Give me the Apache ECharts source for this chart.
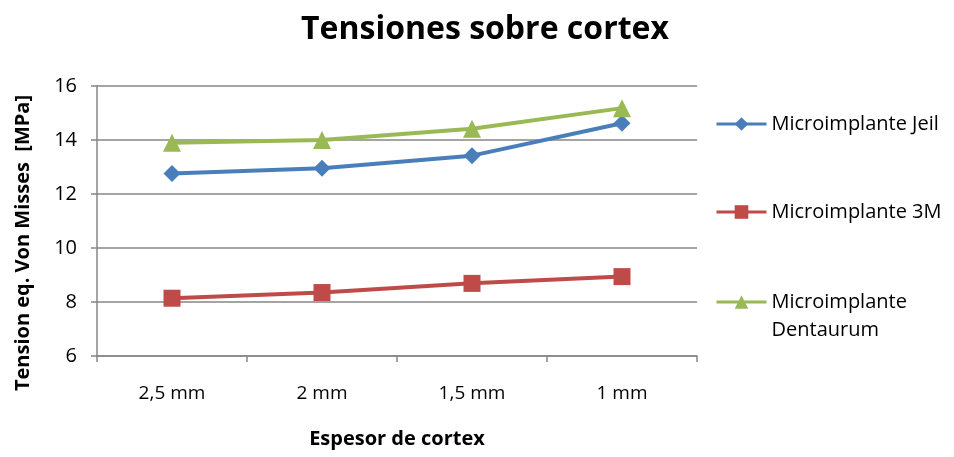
<!DOCTYPE html>
<html>
<head>
<meta charset="utf-8">
<script src="https://cdn.jsdelivr.net/npm/echarts@6/dist/echarts.min.js"></script>
<style>
	html, body { margin: 0; padding: 0; background: #fff; }
	#chart { width: 954px; height: 457px; }
</style>
</head>
<body>
<div id="chart"></div>
<script>
	// datos
	var categorias = ['2,5 mm', '2 mm', '1,5 mm', '1 mm'];
	var nombres = ['Microimplante Jeil', 'Microimplante 3M', 'Microimplante Dentaurum'];
	var jeil = [12.76, 12.95, 13.42, 14.62];
	var tresM = [8.14, 8.35, 8.69, 8.94];
	var dentaurum = [13.9, 14.0, 14.42, 15.18];
	var ticksY = [6, 8, 10, 12, 14, 16];

	var fuente = '"Open Sans", "DejaVu Sans", sans-serif';
	var colores = ['#4a7ebb', '#be4b48', '#98b954'];

	var chart = echarts.init(document.getElementById('chart'));

	function leyenda(nombre, top, dosLineas) {
		return {
			data: [nombre],
			left: 710,
			top: top,
			orient: 'vertical',
			itemWidth: 50,
			itemHeight: 17,
			selectedMode: false,
			lineStyle: { width: 3 },
			// linea blanca delante para que el icono quede junto a la primera linea
			formatter: dosLineas ? function(n) { return '\n' + n.replace(' ', '\n'); } : '{name}',
			textStyle: {
				fontFamily: fuente,
				fontSize: 20,
				lineHeight: 28,
				color: '#000'
			}
		};
	}

	var option = {
		backgroundColor: '#fff',
		color: colores,
		title: {
			text: 'Tensiones sobre cortex',
			left: 480,
			textAlign: 'center',
			top: 9,
			textStyle: {
				fontFamily: fuente,
				fontSize: 32,
				fontWeight: 'bold',
				color: '#000'
			}
		},
		legend: [
			leyenda(nombres[0], 105),
			leyenda(nombres[1], 193),
			leyenda(nombres[2], 255, true)
		],
		grid: {
			left: 97,
			right: 257,
			top: 86,
			bottom: 101,
			containLabel: false
		},
		xAxis: {
			type: 'category',
			data: categorias,
			boundaryGap: true,
			name: 'Espesor de cortex',
			nameLocation: 'middle',
			nameGap: 73,
			nameTextStyle: {
				fontFamily: fuente,
				fontSize: 20,
				fontWeight: 'bold',
				color: '#000'
			},
			axisLine: { lineStyle: { color: '#868686', width: 1.5 } },
			axisTick: { show: true, length: 6, lineStyle: { color: '#868686', width: 1.5 } },
			axisLabel: {
				margin: 28,
				fontFamily: fuente,
				fontSize: 19,
				color: '#000'
			}
		},
		yAxis: {
			type: 'value',
			min: ticksY[0],
			max: ticksY[ticksY.length - 1],
			interval: 2,
			name: 'Tension eq. Von Misses  [MPa]',
			nameLocation: 'middle',
			nameGap: 64,
			nameTextStyle: {
				fontFamily: fuente,
				fontSize: 20,
				fontWeight: 'bold',
				color: '#000',
				padding: [0, 44, 0, 0]
			},
			axisLine: { show: true, lineStyle: { color: '#868686', width: 1.5 } },
			axisTick: { show: true, length: 6, lineStyle: { color: '#868686', width: 1.5 } },
			axisLabel: {
				margin: 20,
				fontFamily: fuente,
				fontSize: 20,
				color: '#000'
			},
			splitLine: { lineStyle: { color: '#868686', width: 1.5 } }
		},
		series: [{
				name: nombres[0],
				type: 'line',
				data: jeil,
				symbol: 'diamond',
				symbolSize: 17,
				lineStyle: { width: 4 },
				itemStyle: { color: colores[0] }
			},
			{
				name: nombres[1],
				type: 'line',
				data: tresM,
				symbol: 'rect',
				symbolSize: 17,
				lineStyle: { width: 4 },
				itemStyle: { color: colores[1] }
			},
			{
				name: nombres[2],
				type: 'line',
				data: dentaurum,
				symbol: 'triangle',
				symbolSize: 18,
				lineStyle: { width: 4 },
				itemStyle: { color: colores[2] }
			}
		]
	};

	chart.setOption(option);
	window.onresize = chart.resize;
</script>
</body>
</html>
